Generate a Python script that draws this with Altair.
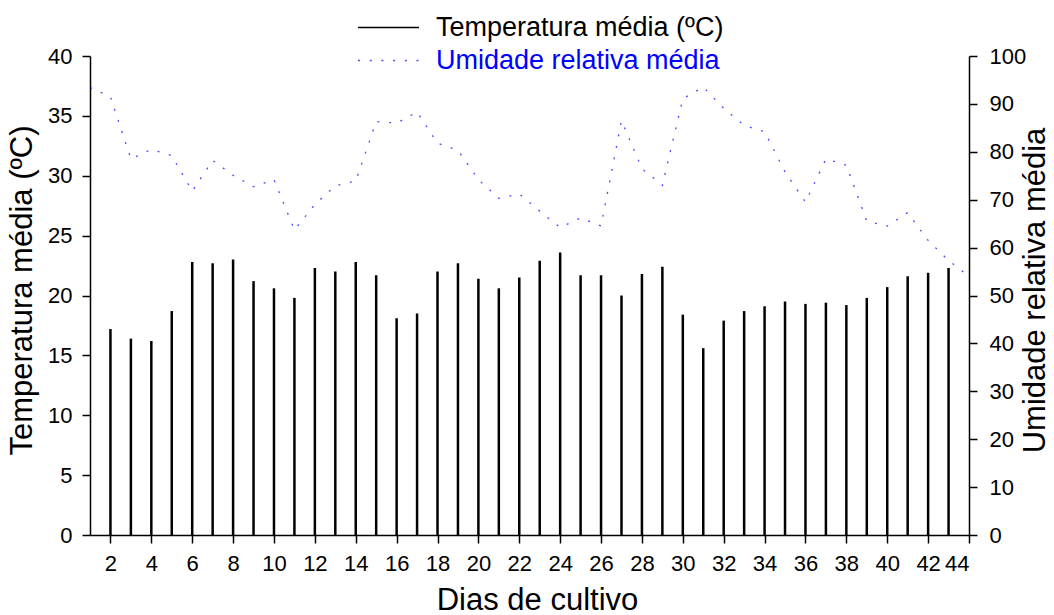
import altair as alt
import pandas as pd

FONT = "Liberation Sans"

# Temperature bars (days 2..43)
dias_temp = list(range(2, 44))
temperatura = [17.2, 16.4, 16.2, 18.7, 22.8, 22.7, 23.0, 21.2, 20.6, 19.8,
               22.3, 22.0, 22.8, 21.7, 18.1, 18.5, 22.0, 22.7, 21.4, 20.6,
               21.5, 22.9, 23.6, 21.7, 21.7, 20.0, 21.8, 22.4, 18.4, 15.6,
               17.9, 18.7, 19.1, 19.5, 19.3, 19.4, 19.2, 19.8, 20.7, 21.6,
               21.9, 22.3]

# Relative humidity (days 1..44)
dias_umid = list(range(1, 45))
umidade = [93.4, 91.5, 78.5, 80.5, 79.2, 71.8, 78.2, 75.1, 72.7, 74.2,
           63.7, 69.0, 72.9, 73.9, 86.3, 86.0, 88.3, 81.8, 80.3, 74.2,
           70.3, 71.2, 67.6, 64.2, 66.2, 64.5, 86.5, 76.5, 73.0, 91.1,
           93.5, 89.1, 85.5, 84.2, 75.8, 69.5, 78.5, 77.2, 65.5, 64.5,
           67.3, 61.5, 57.3, 54.0]

x_ticks = list(range(2, 45, 2))
y_left_ticks = list(range(0, 41, 5))
y_right_ticks = list(range(0, 101, 10))

serie_t = "Temperatura média (ºC)"
serie_u = "Umidade relativa média"

df_t = pd.DataFrame({"dia": dias_temp, "temp": temperatura, "serie": serie_t})
df_u = pd.DataFrame({"dia": dias_umid, "umid": umidade, "serie": serie_u})

x_scale = alt.Scale(domain=[1, 44], nice=False, zero=False)

x_axis = alt.Axis(values=x_ticks, title="Dias de cultivo", grid=False,
                  tickSize=8, labelPadding=10,
                  titleX=447, titleY=65, titleBaseline="middle", titleAlign="center")

bars = alt.Chart(df_t).mark_rule(strokeWidth=2.5).encode(
    x=alt.X("dia:Q", scale=x_scale, axis=x_axis),
    y=alt.Y("temp:Q", scale=alt.Scale(domain=[0, 40], nice=False),
            axis=alt.Axis(values=y_left_ticks, orient="left", grid=False,
                          title=serie_t, tickSize=8, labelPadding=10,
                          titleAngle=270, titleX=-68, titleY=234,
                          titleBaseline="middle", titleAlign="center")),
    y2=alt.datum(0),
    color=alt.Color("serie:N", scale=alt.Scale(domain=[serie_t], range=["black"]),
                    legend=alt.Legend(title=None, orient="none", legendX=267, legendY=-60,
                                      symbolType="stroke", symbolSize=3721,
                                      symbolStrokeWidth=1.5, symbolStrokeColor="black",
                                      labelFontSize=27, labelFont=FONT, labelColor="black",
                                      labelLimit=1000, labelOffset=16, padding=0)),
)

line = alt.Chart(df_u).mark_line(strokeWidth=1.3, strokeDash=[2, 9.7], opacity=0.7).encode(
    x=alt.X("dia:Q", scale=x_scale),
    y=alt.Y("umid:Q", scale=alt.Scale(domain=[0, 100], nice=False),
            axis=alt.Axis(values=y_right_ticks, orient="right", grid=False,
                          title=serie_u, tickSize=8, labelPadding=12,
                          titleAngle=270, titleX=66, titleY=234,
                          titleBaseline="middle", titleAlign="center")),
    color=alt.Color("serie:N", scale=alt.Scale(domain=[serie_u], range=["#0000ff"]),
                    legend=alt.Legend(title=None, orient="none", legendX=267, legendY=-27,
                                      symbolType="stroke", symbolSize=3721,
                                      symbolStrokeWidth=1.3, symbolStrokeColor="#0000ff",
                                      symbolDash=[2, 9.7], symbolOpacity=0.7,
                                      labelFontSize=27, labelFont=FONT, labelColor="#0000ff",
                                      labelLimit=1000, labelOffset=16, padding=0)),
)

chart = alt.layer(bars, line).resolve_scale(
    y="independent", color="independent"
).properties(
    width=879, height=479,
    autosize=alt.AutoSizeParams(type="none"),
    padding={"left": 90, "top": 56, "right": 85, "bottom": 80},
    background="white",
).configure_view(
    strokeWidth=0
).configure_axis(
    domainColor="black", tickColor="black", domainWidth=1.5, tickWidth=1.5,
    labelColor="black", labelFont=FONT, labelFontSize=22,
    titleColor="black", titleFont=FONT, titleFontSize=31, titleFontWeight="normal",
)

chart.save("out.html", embed_options={"renderer": "svg", "actions": False})
